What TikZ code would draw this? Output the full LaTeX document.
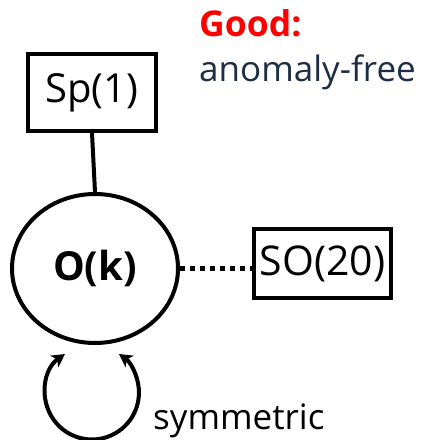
\documentclass[tikz,border=0pt]{standalone}
\usepackage{fontspec}
\setmainfont{Open Sans}
\usetikzlibrary{shapes.geometric,arrows.meta}
\definecolor{goodred}{RGB}{255,0,0}
\definecolor{navytext}{RGB}{30,45,70}
\tikzset{
  groupbox/.style={draw, line width=4pt, rectangle, inner sep=0pt},
  gaugenode/.style={draw, line width=4pt, ellipse, inner sep=0pt},
  link/.style={line width=4pt},
  dotlink/.style={line width=5pt, dash pattern=on 5pt off 5pt},
  selfloop/.style={line width=4pt, {Stealth[length=13pt,width=14pt,inset=3.5pt]}-{Stealth[length=13pt,width=14pt,inset=3.5pt]}},
  label/.style={inner sep=0pt, anchor=base west},
}
\begin{document}
\begin{tikzpicture}[x=1pt,y=1pt]
  \useasboundingbox (0,0) rectangle (424,440);

  % nodes
  \node[groupbox, minimum width=128pt, minimum height=77pt] (sp) at (92,347.5)
    {\fontsize{40}{48}\selectfont Sp(1)};
  \node[gaugenode, minimum width=166pt, minimum height=149pt] (ok) at (95,171.5)
    {\fontsize{40}{47}\selectfont\bfseries O(k)};
  \node[groupbox, minimum width=137pt, minimum height=69pt] (so) at (322.5,176.5)
    {\fontsize{41}{49}\selectfont SO(20)};

  % connectors
  \draw[link] (sp.south) -- (ok.north);
  \draw[dotlink] (ok.east) -- (ok.east -| so.west);
  \draw[selfloop] ([xshift=-30pt,yshift=-9pt]ok.south)
    arc[start angle=125, end angle=415, radius=47pt];

  % labels
  \node[label, text=goodred] (good) at (199,403)
    {\fontsize{35.5}{42}\selectfont\bfseries Good:};
  \node[label, text=navytext] (free) at (199,358)
    {\fontsize{35}{42}\selectfont anomaly-free};
  \node[label] (sym) at (153,10)
    {\fontsize{35}{42}\selectfont symmetric};
\end{tikzpicture}
\end{document}
